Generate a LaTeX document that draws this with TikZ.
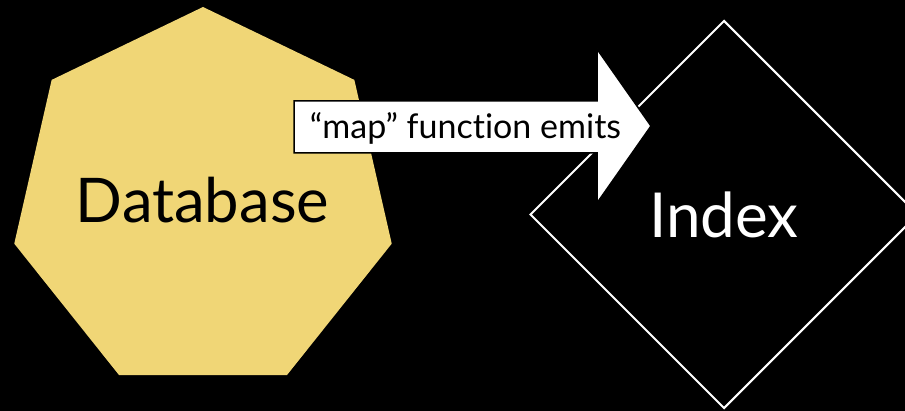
\documentclass[tikz,border=0pt]{standalone}
\usepackage{fontspec}
\setmainfont{Lato}[Ligatures={NoCommon,NoDiscretionary,NoContextual}]
\usetikzlibrary{shapes.geometric}
\definecolor{dbyellow}{RGB}{240,214,118}
\begin{document}
\begin{tikzpicture}[x=0.5pt,y=-0.5pt,
  dbshape/.style={regular polygon, regular polygon sides=7, minimum size=193.6pt,
    inner sep=0pt, outer sep=0pt, fill=dbyellow},
  dbtext/.style={inner sep=0pt, text=black, anchor=base,
    font=\fontsize{30.8}{32}\selectfont},
  idxshape/.style={diamond, draw=white, line width=1pt, minimum width=194pt,
    minimum height=194pt, inner sep=0pt, text=white,
    font=\fontsize{31}{33}\selectfont},
  blockarrow/.style={fill=white, draw=black, line width=0.75pt, line join=miter},
  lbltext/.style={inner sep=0pt, text=black, font=\fontsize{17}{19}\selectfont, anchor=base}]
\fill[black] (0,0) rectangle (905,411);
\useasboundingbox (0,0) rectangle (905,411);
\node[dbshape] (db) at (203,200.6) {};
\node[dbtext] (dblabel) at (202.5,223) {Database};
\node[idxshape] (idx) at (724,214.5) {Index};
\coordinate (a1) at (294,101);
\coordinate (a2) at (597,101);
\coordinate (a3) at (597,49);
\coordinate (a4) at (651,126);
\coordinate (a5) at (597,203);
\coordinate (a6) at (597,153);
\coordinate (a7) at (294,153);
\draw[blockarrow] (a1) -- (a2) -- (a3) -- (a4) -- (a5) -- (a6) -- (a7) -- cycle;
\node[lbltext] (lbl) at (465.5,139) {“map” function emits};
\end{tikzpicture}
\end{document}
